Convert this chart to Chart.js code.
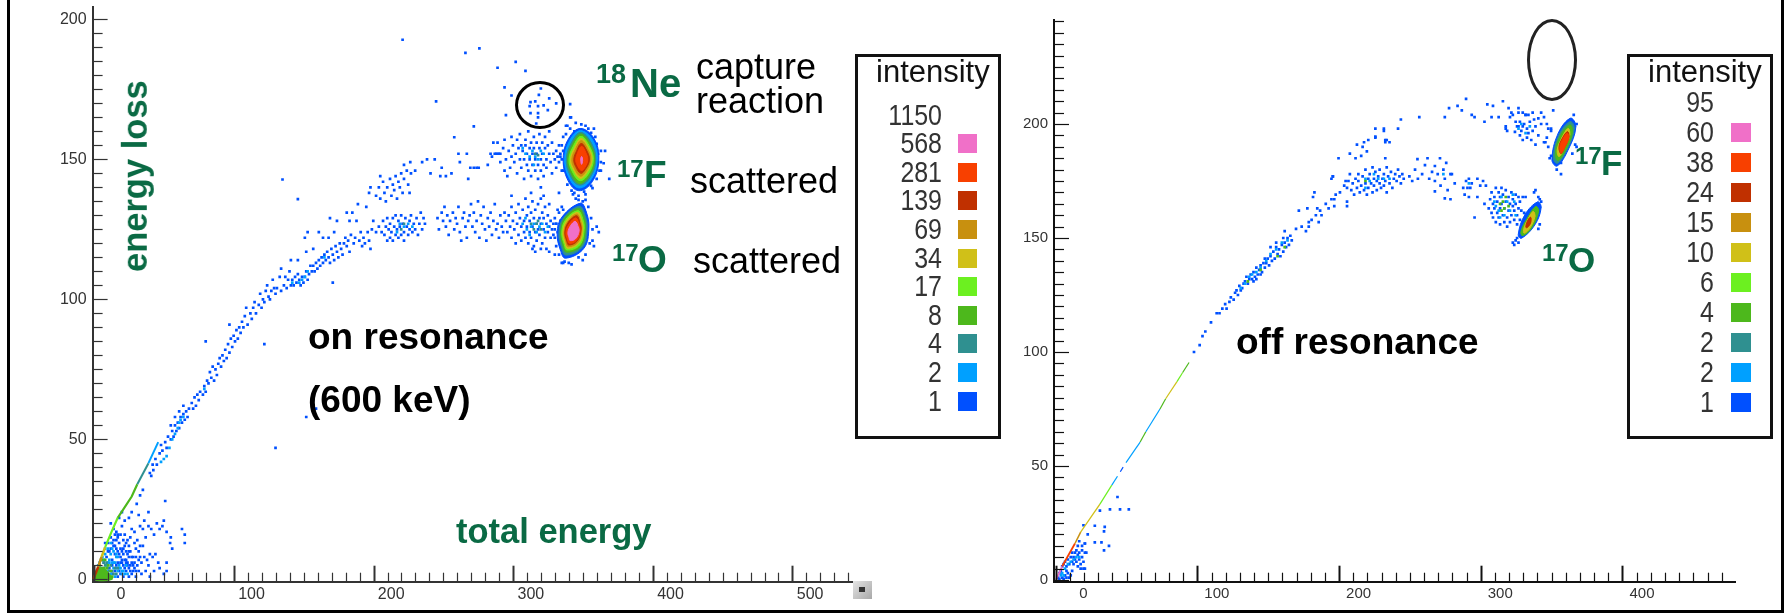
<!DOCTYPE html>
<html>
<head>
<meta charset="utf-8">
<title>energy loss vs total energy</title>
<script src="https://cdn.jsdelivr.net/npm/chart.js@4/dist/chart.umd.js"></script>
<style>
    html, body { margin: 0; padding: 0; background: #fff; }
    #page { position: relative; width: 1784px; height: 613px; overflow: hidden; font-family: 'Liberation Sans', Arial, sans-serif; }
    canvas { position: absolute; }
    .frame { position: absolute; background: #000; }
    .txt { position: absolute; white-space: nowrap; color: #000; line-height: normal; }
    .green { color: #0a6a44; font-weight: bold; }
    .bold { font-weight: bold; }
    .legend { position: absolute; box-sizing: border-box; border: 3px solid #111; background: transparent; }
    .num { position: absolute; color: #333; line-height: 1; text-align: right; transform-origin: right center; transform: scaleX(0.86); }
    .swatch { position: absolute; }
    .ring { position: absolute; box-sizing: border-box; border-radius: 50%; }
    #scrollBtn { position: absolute; left: 853px; top: 581px; width: 19px; height: 18px; background: linear-gradient(135deg, #e4e4e4, #a8a8a8); }
    #scrollBtn i { position: absolute; left: 6px; top: 6px; width: 6px; height: 5px; background: #333; }
</style>
</head>
<body>
<div id="page">
    <canvas id="chartOn" width="880" height="613" style="left:0;top:0"></canvas>
    <canvas id="chartOff" width="760" height="613" style="left:1000px;top:0"></canvas>
    <div class="frame" style="left:7px;top:0;width:3px;height:613px"></div>
    <div class="frame" style="left:1781px;top:0;width:3px;height:613px"></div>
    <div class="frame" style="left:7px;top:610px;width:1777px;height:3px"></div>
    <div id="scrollBtn"><i></i></div>
    <div class="ring" style="left:515px;top:81px;width:50px;height:48px;border:3px solid #000"></div>
    <div class="ring" style="left:1527px;top:19px;width:50px;height:82px;border:3px solid #222"></div>
</div>
<script>
// ── Intensity colour scale (shared) ──────────────────────────────────────────
const bandColors = {
    b1: '#0050ff', b2: '#00a0ff', b4: '#2f9090', b8: '#4db81c', b17: '#6cf020',
    b34: '#d0c018', b69: '#c8900f', b139: '#c03000', b281: '#f84000', b568: '#f070c8'
};
const legendBands = [null, 'b568', 'b281', 'b139', 'b69', 'b34', 'b17', 'b8', 'b4', 'b2', 'b1'];
const onLegendLabels = ['1150', '568', '281', '139', '69', '34', '17', '8', '4', '2', '1'];
const offLegendLabels = ['95', '60', '38', '24', '15', '10', '6', '4', '2', '2', '1'];

// ── Axis labels ──────────────────────────────────────────────────────────────
const onXLabels = [0, 100, 200, 300, 400, 500];
const onYLabels = [0, 50, 100, 150, 200];
const offXLabels = [0, 100, 200, 300, 400];
const offYLabels = [0, 50, 100, 150, 200];

// ── ON RESONANCE: single counts ──────────────────────────────────────────────
const onBlue = [
    // low energy corner
    [-12,1],[-10,2],[-8,1],[-6,3],[-4,1],[-3,4],[-1,2],[1,3],[3,1],[5,2],[7,1],[9,3],[11,1],[13,2],[16,3],
    [-7,6],[-5,8],[-3,10],[-1,7],[1,9],[3,6],[5,8],[7,5],[9,7],[11,4],[13,6],[15,4],[18,7],[20,6],[22,8],
    [-4,13],[-2,15],[0,12],[2,11],[4,13],[6,10],[8,12],[10,9],[12,10],[14,8],[16,11],[18,10],[21,12],[24,7],[26,9],[28,8],[30,9],
    [0,18],[2,17],[3,15],[5,16],[6,19],[8,16],[10,14],[12,15],[13,18],[15,17],[17,14],[19,19],[21,18],[23,15],[25,19],[27,18],[29,16],
    [31,20],[33,18],[35,19],[38,17],[41,15],[49,18],[51,16],[51,13],[40.5,13],[42,11],[32,6],[38,6],[38,3],[25,5],[4,22],[6,24],[8,21],[11,22],[13,24],[18,23],[22,21],[25,24],[37,28],[36,21],
    [29,3],[36,2],[20,2],[23,3],[26,1],[33,4],[-2,20],[2,5],[4,3],[6,6],[8,4],[10,6],[12,3],[14,5],[-1,5],[16,8],[9,10],[5,11],[2,14],[7,14],[11,12],[15,13],[19,12],
    [-6,13],[-4,10],[-2,11],[0,14],[1,12],[3,10],[5,6],[6,7],[7,9],[8,7],[9,6],[10,5],[11,8],[12,5],[13,8],[14,3],[15,6],[16,1],[17,5],[18,3],[19,8],[11,10],[4,9],[7,11],[9,13],[3,16],[1,16],[-1,13],
    [28.5,39],[27,37],[21,32],[19,30],[16.6,27],
    // main curve up to the split
    [26,38],[28,41],[30,43],[31,41],[33,45],[35,46],[34,48],[37,49],[38,47],[39,51],[41,50],[42,53],[43,51],[44,55],[45,53],[46,56],[47,54],[48,58],[49,56],[50,59],[51,57],[52,60],[53,58],[54,61],[50,62],[47,60],[44,58],[41,55],
    [56,63],[57,61],[58,65],[59,62],[60,66],[61,64],[62,67],[64,66],[65,69],[66,67],[67,71],[68,70],[69,74],[70,72],[71,76],[72,71],[73,75],[74,73],[75,77],[76,79],[77,76],[78,80],[79,78],[80,82],[81,79],[82,84],[83,81],[84,86],[85,83],[86,87],[87,85],[88,89],[89,86],[90,90],[91,88],[92,92],[93,90],[83,91],[94,94],[95,97],[96,91],[98,95],[99,93],
    [100,97],[101,99],[102,95],[104,98],[105,102],[106,97],[107,100],[109,103],[108,99],[110,105],[111,101],[112,100],[113,103],[115,104],[114,107],[116,102],[117,104],[119,108],[120,103],[120,111],[122,105],[123,108],[124,104],[125,107],[126,110],[127,105],[127,114],[128,107],[129,105],[130,108],[131,106],[132,114],[132,109],[133,107],[134,105],[135,108],[136,106],[137,108],[138,110],[138,117],[139,107],[140,109],
    [141,112],[142,110],[143,118],[143,112],[144,110],[145,113],[146,111],[147,114],[147,124],[148,112],[149,115],[150,113],[150,122],[151,116],[152,114],[153,117],[154,115],[154,122],[155,113],[155,129],[156,118],[157,116],[158,124],[158,114],[159,119],[160,117],[160,128],[161,115],[162,120],[163,118],[164,116],[165,120],[166,122],[167,119],[167,131],[168,121],[169,117],[169,128],[170,123],[171,131],[172,120],[173,122],[174,128],[175,134],[176,121],[177,124],[178,119],[179,122],[180,120],[181,133],[182,124],[183,121],[184,118],[185,125],[186,128],[188,124],[183,138],[184,140],[191,144],
    [139,124],[137,122],
    // lower branch cluster near 210
    [190,126],[192,124],[193,128],[194,123],[195,126],[196,121],[196,129],[197,125],[198,122],[198,127],[199,124],[200,129],[200,121],[201,126],[202,123],[202,130],[203,125],[204,122],[204,128],[205,126],[206,123],[206,130],[207,127],[208,124],[208,121],[209,129],[210,126],[211,123],[212,128],[212,125],[213,130],[214,124],[215,127],[216,125],[217,129],[218,123],[219,127],[220,131],[221,125],[222,129],[223,127],
    // upper branch
    [188,137],[190,140],[191,136],[193,142],[194,138],[195,135],[196,140],[198,143],[199,137],[200,141],[201,139],[202,144],[203,136],[204,142],[205,140],[206,145],[207,138],[208,143],[208,148],[210,146],[211,141],[212,138],[212.5,149],[213,145],[216,146],[221,149],[224.5,150],[230,150],[227,145],[235,147],[242,145],[247,152],[253,152],[248,149],[234,144],[238,144],[254,143],[255.5,147],[258,147],[260,147],[261.5,147],
    // 17F side cluster
    [268,148],[270,152],[272,156],[271,151],[273,152],[274,152],[275,152],[276,152],[277,152],[275,156],[277,149],[279,154],[280,146],[280,157],[281,150],[282,144],[283,153],[284,147],[285,158],[285,151],[286,155],[287,149],[288,152],[289,145],[289,157],[290,154],[291,150],[291,159],[292,147],[292,155],[293,153],[294,143],[294,150],[295,157],[295,155],[296,148],[296,152],[297,160],[297,146],[298,154],[298,150],[299,156],[299,144],[300,152],[300,148],[301,158],[301,154],[302,150],[302,146],[303,156],[303,152],[304,143],[304,148],[305,154],[305,159],[306,150],[306,146],[307,156],[307,152],[308,148],[308,144],[309,158],[309,154],[310,150],[310,147],[311,155],[312,152],[312,160],[313,149],[314,145],[314,156],[315,152],[316,150],[317,153],[317,147],[318,151],[319,149],[319,155],[320,152],[321,150],[321,146],[322,153],[323,148],
    // around the 17F blob
    [327,165],[324,162],[331,163],[340,161],[346,155.5],[349,153],[352,153],[351,148.6],[348,146],[355,143],[343,139.7],[337,138.5],[328,138.8],[325,141],[322,158],[345,158],[349,149],
    [330,160],[335,162.5],[338,162],[342,159.5],[347,152],[349,146],[346,143],[342,140.5],[338,137.5],[333,137],[329,137.5],[325,144],[322,146],[320,151],[321,155],[324,159],[327,161],[344,161],
    // lower row, streaks
    [232,129],[233,125],[235,131],[236,128],[237,133],[238,126],[239,130],[240,123],[241,128],[243,131],[244,125],[245,129],[246,127],[247,133],[248,124],[249,121],[250,129],[251,131],[252,126],[253,122],[254,128],[255,130],[256,134],[257,126],[258,131],[259,124],[260,128],[261,135],[262,122],[263,130],[264,127],[265,133],[266,125],[267,121],[268,129],[269,126],[270,131],[271,123],[272,128],[273,134],[274,125],[275,127],[276,122],[277,130],[278,126],[279,124],[280,131],[281,128],
    // 17O side cluster
    [282,124],[283,130],[284,126],[285,133],[285,122],[286,128],[287,125],[288,131],[288,120],[289,127],[290,123],[290,134],[291,129],[292,126],[292,121],[293,132],[294,124],[294,128],[295,136],[295,122],[296,130],[296,126],[297,133],[297,120],[298,124],[298,128],[299,131],[299,122],[300,135],[300,126],[301,129],[301,119],[302,124],[302,132],[303,127],[303,121],[304,134],[304,125],[305,129],[305,123],[306,136],[306,127],[307,131],[307,120],[308,125],[308,129],[309,122],[309,133],[310,127],[310,118],[311,124],[311,130],[312,126],[312,134],[313,122],[313,128],[314,125],[315,127],[315,123],[316,129],[316,125],[317,127],[318,124],[319,126],[318,132],[320,128],[321,133],[322,113],[316,116],[312,117],[306,118],[302,117],[300,118],
    [346,126],[347.5,124],[343,121],[344,119],[336,114],[326,113],[321,113],[330,138],[333,135.5],[338,135.5],[319,138],[308,137],[306,140],[299,138],[285,137],
    [336,135],[340,133],[342,129],[343,125],[341,120],[338,116],[333,115],[328,112.5],[323,113.5],[319,116],[317,119],[316,122],[317,127],[319,131],[322,132],[331,136],
    // isolated counts and the capture events inside the circle
    [207,192.7],[252,188],[262,189.6],[275,182.7],[288,184.8],[295,181.6],[280,175.7],[285,172.8],[281,165.8],[231,170.7],[258,161.8],[244,157.9],[121,142.8],[132,135.8],[116,47],[108,84],[157,106],[66,85],[138,58],[145,61],[327,169.7],[327.6,165],[325,162],
    [306,175.3],[304.6,173],[298.6,170.4],[302,170.7],[298,169],[304,169],[308,169.3],[312,171.8],[317,170],[298.6,166.5],[304,166.5],[311,167.6],[304,165],[302.7,162.8]
];
const onCyan = [
    [-12,3],[-11,5],[-10,6],[-9,4],[-8,8],[-7,7],[-6,9],[-5,5],[-4,6],[-3,7],[-2,9],[-1,6],[0,4],[1,6],[2,4],[3,3],[4,5],[5,4],[6,2],[7,3],[8,2],[9,5],[10,2],[-6,11],[-4,11],[-2,13],[0,10],[2,8],
    [-8,2],[-5,3],[-2,2],[1,1],[4,4],[-3,6],[0,6],[3,8],[6,3],[-1,11],[2,9],
    [50,58],[48,57],[46,54],[44,52],[42,50],[40,47],[38,44],[36,43],[34,42],[47,56],[65,68],[137,108],[135,107],[139,110],[133,106],[151,115],[128,106],
    [295,152],[298,151],[300,153],[302,151],[304,150],[306,153],[293,154],[308,152],[301,148],
    [293,127],[296,125],[299,126],[301,127],[303,124],[305,126],[307,127],[309,124],[295,129],[298,123],[311,126],
    [205,127],[208,126],[211,127],[214,126],[203,124]
];
const onTeal = [
    [-12,2],[-11,1],[-10,3],[-9,2],[-8,4],[-7,3],[-6,5],[-5,2],[-4,4],[-3,3],[-2,5],[-1,3],[0,2],[1,4],[2,2],[3,4],[-9,7],[-7,6],[-5,6],
    [302,152],[304,151.5],[299,127],[301,125],[303,127],[306,125],[304,128],[208,127],[206,125]
];
const onGreen = [[-8,7],[-6,7],[-4,5],[-10,5],[-7,4],[-5,4],[-2,3],[-3,1],[-1,1],[-9,1],[-6,1],[-11,3]];

// ── ON RESONANCE: contours of the two peaks and the low corner ───────────────
const onF1 = [[334.4,161],[344,157.5],[347.5,149.8],[342.8,142],[333.2,138.8],[325.3,142.6],[322,150.4],[326,157.5]];
const onF2 = [[334.4,160.2],[343,157],[346.4,150],[342,142.8],[333.3,139.8],[326.2,143.4],[323.1,150.2],[327,157]];
const onF4 = [[334.5,159.6],[342,156],[345.4,150],[341.2,143.4],[333.5,140.8],[327,144.2],[324.2,150.2],[328,156]];
const onF8 = [[334.6,159],[341.2,155.6],[344.6,150],[340.6,144],[333.6,141.4],[327.8,144.8],[325.2,150.2],[328.8,155.6]];
const onF17 = [[334.8,158.2],[340.4,155],[343.6,150],[339.8,144.6],[334,142.4],[328.6,145.6],[326.2,150],[329.6,155]];
const onF34 = [[334.8,157.4],[339.8,154.6],[342.8,150],[339,145.2],[334.2,143.2],[329.4,146.2],[327.2,150],[330.4,154.4]];
const onF69 = [[335,156.6],[339.2,154],[341.8,150],[338.4,145.8],[334.4,144],[330,146.8],[328.2,150],[331,153.8]];
const onF139 = [[335,155.6],[338.6,153.4],[340.8,149.8],[337.8,146.4],[334.6,145],[331,147.4],[329.6,150],[331.8,153.2]];
const onF281 = [[335.2,154.6],[338,152.6],[339.6,149.8],[337.4,147],[335,146],[332,148],[331,150],[332.6,152.6]];
const onF568 = [[335.2,151],[335.9,149.6],[335.2,148.2],[334.6,149.6]];

const onO1 = [[334.4,134.3],[338.5,131.3],[340.4,125.4],[336.8,118.2],[323.6,114.7],[320,117.6],[317.7,123.6],[321.3,129.5]];
const onO4 = [[333.6,133.2],[337.4,130.4],[339.2,125.2],[335.6,118.6],[324,115.8],[321,118.4],[319,123.8],[322.4,129.2]];
const onO8 = [[333,132.4],[336.6,129.8],[338,125],[334.6,119],[324.4,116.8],[322,119],[320.2,123.8],[323.2,129]];
const onO17 = [[332.6,131.6],[335.8,129],[337,125],[333.8,119.4],[324.8,117.6],[322.8,119.6],[321,124],[324,128.6]];
const onO34 = [[332.2,131],[335,128.6],[336.2,125],[333.2,120],[325.2,118.2],[323.4,120],[321.8,124],[324.6,128.2]];
const onO69 = [[331.8,130.4],[334.4,128],[335.4,124.8],[332.6,120.4],[325.6,118.8],[324,120.4],[322.6,124],[325.2,127.8]];
const onO139 = [[331.6,129.8],[333.8,127.6],[334.8,124.8],[332,120.8],[326,119.4],[324.6,120.8],[323.2,124],[325.8,127.6]];
const onO281 = [[331,129],[333.2,127],[334.2,124.6],[331.4,121],[326.4,120],[325.2,121.2],[324,124],[326.4,127]];
const onO568 = [[330.6,127.8],[332.4,126.4],[333.4,124.4],[330.8,121.6],[327,121],[326.2,122],[325.4,124],[327.4,126.4]];

const onCorner8 = [[-14,0],[-11,4],[-7,4],[-3,2],[-1,0]];

// thin coloured ridge rising out of the corner
const onRidge = [
    ['b139', [[-14.5,0],[-11,4.5]], 2.5],
    ['b69', [[-11,4.5],[-8.6,8]], 2.5],
    ['b34', [[-8.6,8],[-6,11.5]], 2.5],
    ['b17', [[-6,11.5],[-1,17.5],[3,22]], 2.2],
    ['b8', [[3,22],[13,29.6],[17,34]], 2.2],
    ['b4', [[17,34],[25,41.5]], 2],
    ['b2', [[25,41.5],[32,49]], 2]
];

// ── OFF RESONANCE ────────────────────────────────────────────────────────────
const offBlue = [
    // low energy corner
    [-11,3],[-12,1],[-10,4],[-9,1],[-8,0.5],[-7,2],[-6,1],[-5,3],[-4,1],[-3,2],[-9,6],[-8,7],[-7,8],[-6,6],[-5,9],[-4,7],[-3,10],[-2,8],[-1,7],[0,9],[1,8],[2,11],[3,9],[4,7],[5,10],[6,8],[7,12],[-2,12],[-1,10],[0,12],[1,13],[2,6],[3,12],[4,5],[5,13],[6,5],[7,5],[2,15],[3,17],[5,15],[7,16],[8,12],[-6,4],[-2,4],[-11,0.5],
    [30,36.4],[24.7,31],[31.8,31],[38,31],[17.6,30.4],[21,23.3],[20.5,21.3],[14,23.8],[7,16],[14,16.5],[18.7,16.5],[24,15],[20.5,13],[9,20],[6,24],
    // dotted part of the line and the first rise
    [84,100],[88,103],[90,107],[92,109],[96,113],[100,117],[102,117],[104,119],[106,121],[107,119],[109,122],[110,124],[112,123],[113,126],[114,127],[115,125],[116,129],[117,127],[118,128],[119,130],[120,131],[121,133],[122,130],[123,132],[124,134],[125,132],[126,135],[127,133],[128,137],[129,134],[130,136],[131,138],[132,135],[133,139],[134,137],[135,139],[136,141],[137,138],[138,142],[139,140],[140,144],[141,141],[142,146],[143,143],[144,145],[145,142],[146,147],[147,144],[148,148],[149,146],[150,150],[151,147],[152,151],[153,149],[147,150],[128,132],[131,134],[126,131],[134,141],[138,146],[142,148],
    // sparse stretch up to the main cluster
    [148,153],[156,154],[160,155],[163,153],[165,155],[165,157],[167,158],[170,160],[174,160],[172,157],[158,162],[164,163],[171,163],[173,162],[179,163],[183,164],[177,165],[181,167],[183,167],[168,168],[169,170],[181,176],[182,177],[187,170],[184,169],[190,173],[192,166],[192,164],[191,175],
    // upper arc
    [186,185],[194,187],[198,185],[202,186],[206,188],[199,191],[203,190],[204,192],[207,193],[212,194],[218,197],[219,192],[222,192],[219,193],[219,185],[182,177],[230,202],[228,198],[212,198],[218,198],[212,194.5],[220,193],[243,203],[261,203],[264,207],[270,208],[276,211],[273,206],[280,204],[282,203],[289,201],[291,208.6],[295,208],[294,203],[299,203],[302,210],
    // 17F side cluster
    [306,207],[313,207],[313,205],[309,204],[307,203],[308,205],[316,205],[318,204],[323,205],[329,205],[337.5,206],[304,199],[304,198],[305,197],[311,201],[314,201],[313,199],[318,204],[320,204],[327,202.5],[331,203],[329,200],[333,200],[334,198],[336,198],[336,197],[310.5,196.6],[316,193],[319,194],[325,191],[331,192],[333,194],[332,192],[312,199],[315,197],[317,200],[319,198],[321,201],[323,197],[325,199],[327,195],[322,193],[320,196],[316,199],[314,195],[324,202],
    // around the 17F peak
    [352,204],[354,200],[353,191],[354,190],[336,186],[335,185],[340,180],[343,183],[351,187],[343,178],[348,196],[334,190],
    // main cluster near 210
    [192,172],[193,175],[194,178],[195,171],[196,174],[197,169],[198,176],[199,172],[200,175],[200,178],[201,170],[202,173],[203,177],[204,171],[205,174],[205,180],[206,169],[207,176],[207,172],[208,178],[209,174],[210,170],[210,181],[211,176],[211,173],[212,179],[213,175],[213,171],[214,177],[215,180],[215,174],[216,172],[217,176],[218,178],[218,173],[219,175],[220,181],[220,170],[221,177],[222,174],[223,179],[224,172],[225,176],[226,178],[227,175],[228,180],[229,177],[230,174],[231,178],[232,176],
    // falling arc
    [236,177],[238,175],[240,180],[242,176],[241.7,184.6],[245,178],[247,182],[248.8,185],[250,176],[252,179],[254,181.6],[254,175],[256,178],[257.6,185],[258,173],[260,180],[261,176],[262,183],[263,171],[265,178],[266,178],[254,170.5],[261,167.4],[265,167],[268,174],
    [274,172],[275,169],[276,175],[277,172],[278,168],[278,176],[279,172],[280,174],[282,159],[284,176],[286,173],[284,168],[288,175],[289,165],[290,173],
    // 17O side cluster
    [292,163],[293,167],[294,161],[294,170],[295,165],[295,159],[296,163],[296,168],[297,172],[297,157],[298,161],[298,166],[299,170],[299,159],[300,163],[300,156],[300,168],[301,165],[301,172],[302,160],[302,169],[303,157],[303,163],[304,166],[304,171],[305,159],[305,155],[306,168],[306,162],[307,165],[307,157],[308,170],[308,160],[309,164],[309,167],[310,158],[310,162],[311,169],[311,165],[312,160],[312,156],[313,168],[313,163],[314,166],[314,158],[315,162],[316,168],[318,168],[324,170],[325,171],[327,168],[328,167],[327,154],[317,161],
    // around the 17O peak and its tail
    [310,147],[311,149],[309,148],[312,150],[313,148],[328,156],[329,166]
];
const offCyan = [
    [-10,2],[-9,3],[-8,2],[-7,5],[-5,7],[-3,8],[-1,9],[1,10],[3,10],
    [117,128],[120,130],[123,133],[125,134],[128,135],[131,137],[135,140],[138,143],[142,145],[146,148],[150,149],
    [205,176],[208,175],[211,178],[214,176],[218,176],[222,176],[205,172],
    [297,164],[299,162],[301,168],[303,160],[305,166],[307,162],[309,169],[311,160],[300,159],[310,166],[296,166],
    [313,198],[318,196],[321,199],[315,200],[278,174],[260,178]
];
const offGreen = [[205,175],[143,142],[148,146],[131,136],[122,131],[300,165],[303,163],[304,168],[301,162],[306,164],[302,166]];

const offF1 = [[349.7,202.5],[353.5,198.8],[348,188.6],[340.3,181.6],[336.6,184.2],[341,195.9]];
const offF4 = [[349.4,201],[352.4,198],[347.4,189],[340.6,182.8],[337.6,185.2],[341.6,195.2]];
const offF8 = [[349.2,199.6],[351.1,196.6],[346.9,189.4],[341,184],[338.9,186.4],[342.2,194.5]];
const offF34 = [[348,198],[349.2,195.2],[345.7,190],[341.7,185.7],[340.3,188.6],[343.4,193.7]];
const offF139 = [[347.6,196.6],[348.6,194.2],[345.5,189.6],[343,187],[341.6,190],[344.2,194]];
const offF281 = [[347.4,195.9],[348.3,193.7],[345.3,189.4],[343.1,187.2],[342.2,190],[344.6,193.7]];
const offO1 = [[326.5,165.8],[329,163.4],[324.6,155.8],[315.2,149.9],[312.8,151.4],[317.5,160.2]];
const offO8 = [[325.3,163.8],[327.2,161.6],[322.2,154.3],[315.9,151],[314.7,152.8],[319.2,158.7]];
const offO34 = [[323.4,161.6],[324.6,159.4],[321,154.3],[317,152.1],[316.8,154.3],[320.1,158.7]];
const offO139 = [[321.5,159.1],[321.5,156.5],[319.2,154.6],[318.2,154.7],[319.2,157.2]];

const offRidge = [
    ['b568', [[-13.4,0],[-9,6]], 1.8],
    ['b281', [[-9,6],[0,16]], 1.8],
    ['b69', [[0,16],[4,21]], 1.5],
    ['b34', [[4,21],[17.6,33.3]], 1.3],
    ['b17', [[17.6,33.3],[26,41.6]], 1.2],
    ['b2', [[26,41.6],[30,45.5]], 1.2],
    ['b1', [[32,47.5],[34,49.5]], 1.2],
    ['b2', [[36,51.5],[46,60.5]], 1.2],
    ['b8', [[46,60.5],[50,65]], 1.2],
    ['b2', [[50,65],[60,75]], 1.2],
    ['b8', [[60,75],[64,79.5]], 1.2],
    ['b34', [[64,79.5],[72,87]], 1.2],
    ['b17', [[72,87],[76,91]], 1.2],
    ['b8', [[76,91],[80.5,95.4]], 1.2]
];

// ── Text placed over the plots ───────────────────────────────────────────────
const page = document.getElementById('page');

function addText(text, x, baseline, size, cls) {
    var el = document.createElement('div');
    el.className = 'txt ' + (cls || '');
    el.textContent = text;
    el.style.left = x + 'px';
    el.style.top = (baseline - size * 0.905) + 'px';
    el.style.fontSize = size + 'px';
    page.appendChild(el);
    return el;
}

addText('18', 596, 83, 27, 'green');
addText('Ne', 630, 97, 40, 'green');
addText('capture', 696, 79, 36);
addText('reaction', 696, 113, 36);
addText('17', 617, 177, 24, 'green');
addText('F', 644, 187, 37, 'green');
addText('scattered', 690, 193, 36);
addText('17', 612, 261, 24, 'green');
addText('O', 638, 272, 37, 'green');
addText('scattered', 693, 273, 36);
addText('on resonance', 308, 349, 37, 'bold');
addText('(600 keV)', 308, 412, 37, 'bold');
addText('total energy', 456, 543, 34.5, 'green');
addText('off resonance', 1236, 354, 37, 'bold');
addText('17', 1575, 164, 24, 'green');
addText('F', 1601, 175, 35, 'green');
addText('17', 1542, 261, 24, 'green');
addText('O', 1568, 272, 35, 'green');

var yTitle = addText('energy loss', 0, 0, 34.5, 'green');
yTitle.style.left = '147px';
yTitle.style.top = '272px';
yTitle.style.transformOrigin = '0 0';
yTitle.style.transform = 'rotate(-90deg) translateY(-31.2px)';

// ── Intensity boxes ──────────────────────────────────────────────────────────
function buildLegend(box, labels) {
    var el = document.createElement('div');
    el.className = 'legend';
    el.style.cssText = 'left:' + box.left + 'px;top:' + box.top + 'px;width:' + box.width + 'px;height:' + box.height + 'px';
    page.appendChild(el);
    var head = addText('intensity', box.headX, box.headBase, 31);
    head.style.color = '#111';
    labels.forEach(function (l, i) {
        var cy = box.firstRow + i * box.rowStep;
        var n = document.createElement('div');
        n.className = 'num';
        n.textContent = l;
        n.style.cssText = 'left:' + (box.numRight - 90) + 'px;width:90px;top:' + (cy - 14.5) + 'px;font-size:29px';
        page.appendChild(n);
        if (legendBands[i]) {
            var s = document.createElement('div');
            s.className = 'swatch';
            s.style.cssText = 'left:' + box.swatchX + 'px;top:' + (cy - 9.5) + 'px;width:' + box.swatchW + 'px;height:19px;background:' + bandColors[legendBands[i]];
            page.appendChild(s);
        }
    });
}

buildLegend({ left: 855, top: 54, width: 146, height: 385, headX: 876, headBase: 82, numRight: 942, firstRow: 115, rowStep: 28.6, swatchX: 958, swatchW: 19 }, onLegendLabels);
buildLegend({ left: 1627, top: 54, width: 146, height: 385, headX: 1648, headBase: 82, numRight: 1714, firstRow: 102.5, rowStep: 30, swatchX: 1731, swatchW: 20 }, offLegendLabels);

// ── Chart helpers ────────────────────────────────────────────────────────────
function toPoints(list) {
    return list.map(function (p) { return { x: p[0], y: p[1] }; });
}

function dots(list, band) {
    return { type: 'scatter', data: toPoints(list), backgroundColor: bandColors[band], pointStyle: 'rect', pointRadius: 1.9, pointBorderWidth: 0, pointHoverRadius: 1.9 };
}

// wraps round by one vertex at each end so the smoothed outline has no corner at the seam
function contour(list, band) {
    var pts = toPoints([list[list.length - 1]].concat(list, [list[0], list[1]]));
    return { type: 'line', data: pts, backgroundColor: bandColors[band], borderColor: bandColors[band], borderWidth: 1, fill: 'shape', tension: 0.4, pointRadius: 0 };
}

function ridge(band, list, width) {
    return { type: 'line', data: toPoints(list), borderColor: bandColors[band], borderWidth: width, fill: false, tension: 0, pointRadius: 0, borderCapStyle: 'butt' };
}

// ticks point into the plot in this kind of spectrum viewer
const insideTicks = {
    id: 'insideTicks',
    afterDatasetsDraw: function (chart, args, opts) {
        var ctx = chart.ctx, area = chart.chartArea;
        ctx.save();
        ctx.strokeStyle = opts.color;
        chart.scales.x.ticks.forEach(function (t) {
            var px = Math.round(chart.scales.x.getPixelForValue(t.value)) + 0.5;
            ctx.lineWidth = t.major ? 2 : 1.2;
            ctx.beginPath();
            ctx.moveTo(px, area.bottom);
            ctx.lineTo(px, area.bottom - (t.major ? opts.majorX : opts.minorX));
            ctx.stroke();
        });
        chart.scales.y.ticks.forEach(function (t) {
            var py = Math.round(chart.scales.y.getPixelForValue(t.value)) + 0.5;
            ctx.lineWidth = 1.2;
            ctx.beginPath();
            ctx.moveTo(area.left, py);
            ctx.lineTo(area.left + (t.major ? opts.majorY : opts.minorY), py);
            ctx.stroke();
        });
        ctx.restore();
    }
};

function buildChart(id, datasets, cfg) {
    datasets.forEach(function (d, i) { d.order = datasets.length - i; });
    return new Chart(document.getElementById(id), {
        data: { datasets: datasets },
        plugins: [insideTicks],
        options: {
            responsive: false,
            animation: false,
            events: [],
            layout: { padding: cfg.padding },
            plugins: {
                legend: { display: false },
                tooltip: { enabled: false },
                insideTicks: { color: cfg.axisColor, majorX: 16, minorX: 9, majorY: 15, minorY: 10 }
            },
            scales: {
                x: {
                    type: 'linear',
                    min: cfg.xMin,
                    max: cfg.xMax,
                    afterFit: function (s) { s.height = cfg.xHeight; s.paddingLeft = 0; s.paddingRight = 0; },
                    afterBuildTicks: function (s) {
                        var t = [];
                        for (var i = 0; i * 10 + cfg.xFirstTick <= cfg.xMax; i++) {
                            t.push({ value: i * 10 + cfg.xFirstTick, major: i % 10 === 0 });
                        }
                        s.ticks = t;
                    },
                    grid: { display: false, drawTicks: false },
                    border: { display: true, color: cfg.axisColor, width: 2 },
                    ticks: {
                        autoSkip: false,
                        maxRotation: 0,
                        minRotation: 0,
                        align: 'end',
                        labelOffset: cfg.xLabelOffset,
                        padding: 3,
                        color: cfg.labelColor,
                        font: cfg.font,
                        callback: function (v, i) {
                            return i % 10 === 0 && cfg.xLabels[i / 10] !== undefined ? String(cfg.xLabels[i / 10]) : '';
                        }
                    }
                },
                y: {
                    type: 'linear',
                    min: cfg.yMin,
                    max: cfg.yMax,
                    afterFit: function (s) { s.width = cfg.yWidth; s.paddingTop = 0; s.paddingBottom = 0; },
                    afterBuildTicks: function (s) {
                        var t = [];
                        for (var v = 0; v <= cfg.yMax; v += 5) {
                            t.push({ value: v, major: cfg.yLabels.indexOf(v) >= 0 });
                        }
                        s.ticks = t;
                    },
                    grid: { display: false, drawTicks: false },
                    border: { display: true, color: cfg.axisColor, width: 2 },
                    ticks: {
                        autoSkip: false,
                        padding: 6,
                        color: cfg.labelColor,
                        font: cfg.font,
                        callback: function (v) { return cfg.yLabels.indexOf(v) >= 0 ? String(v) : ''; }
                    }
                }
            }
        }
    });
}

// ── Left plot: on resonance ──────────────────────────────────────────────────
const onSets = [
    dots(onBlue, 'b1'), dots(onCyan, 'b2'), dots(onTeal, 'b4'), dots(onGreen, 'b8'),
    contour(onCorner8, 'b8'),
    contour(onF1, 'b1'), contour(onF2, 'b2'), contour(onF4, 'b4'), contour(onF8, 'b8'), contour(onF17, 'b17'), contour(onF34, 'b34'), contour(onF69, 'b69'), contour(onF139, 'b139'), contour(onF281, 'b281'), contour(onF568, 'b568'),
    contour(onO1, 'b1'), contour(onO4, 'b4'), contour(onO8, 'b8'), contour(onO17, 'b17'), contour(onO34, 'b34'), contour(onO69, 'b69'), contour(onO139, 'b139'), contour(onO281, 'b281'), contour(onO568, 'b568')
];
onRidge.forEach(function (r) { onSets.push(ridge(r[0], r[1], r[2])); });

buildChart('chartOn', onSets, {
    padding: { left: 32.6, top: 7, right: 18, bottom: 6.3 },
    xMin: -15, xMax: 536, xFirstTick: -13.8, xLabels: onXLabels, xLabelOffset: 31,
    yMin: -0.82, yMax: 204.4, yLabels: onYLabels,
    xHeight: 25, yWidth: 60,
    axisColor: '#333', labelColor: '#333',
    font: { family: "'Liberation Sans',sans-serif", size: 16 }
});

// ── Right plot: off resonance ────────────────────────────────────────────────
const offSets = [
    dots(offBlue, 'b1'), dots(offCyan, 'b2'), dots(offGreen, 'b8'),
    contour(offF1, 'b1'), contour(offF4, 'b4'), contour(offF8, 'b8'), contour(offF34, 'b34'), contour(offF139, 'b139'), contour(offF281, 'b281'),
    contour(offO1, 'b1'), contour(offO8, 'b8'), contour(offO34, 'b34'), contour(offO139, 'b139')
];
offRidge.forEach(function (r) { offSets.push(ridge(r[0], r[1], r[2])); });

buildChart('chartOff', offSets, {
    padding: { left: 14, top: 20.3, right: 25, bottom: 6.3 },
    xMin: -14.8, xMax: 465.8, xFirstTick: -13.6, xLabels: offXLabels, xLabelOffset: 32,
    yMin: -0.75, yMax: 245.5, yLabels: offYLabels,
    xHeight: 25, yWidth: 40,
    axisColor: '#111', labelColor: '#333',
    font: { family: "'Liberation Sans',sans-serif", size: 15 }
});
</script>
</body>
</html>
